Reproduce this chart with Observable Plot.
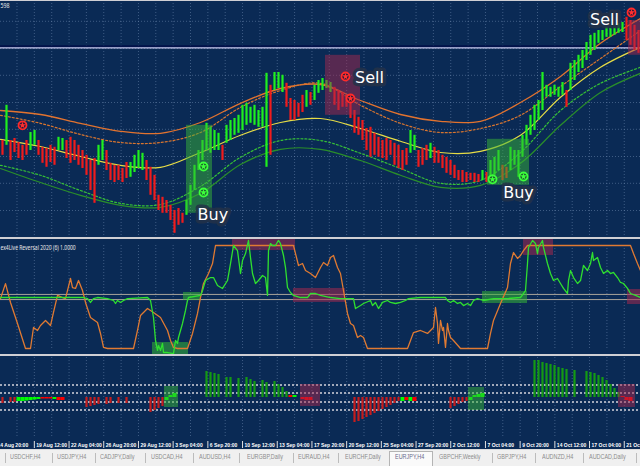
<!DOCTYPE html>
<html><head><meta charset="utf-8">
<script src="https://cdn.jsdelivr.net/npm/d3@7"></script>
<script src="https://cdn.jsdelivr.net/npm/@observablehq/plot@0.6"></script>
<style>
html,body{margin:0;padding:0;background:#0a2a55;}
#wrap{position:relative;width:640px;height:466px;overflow:hidden;background:#0a2a55;font-family:"Liberation Sans",Arial,sans-serif;}
.pane{position:absolute;left:0;}
.pane svg{display:block;}
.sep{position:absolute;left:0;width:640px;background:#cfcfd4;}
#tabs{position:absolute;left:0;top:449px;width:640px;height:17px;background:#f0f0f0;border-top:1px solid #dcdcdc;box-sizing:border-box;}
.tab{position:absolute;top:3px;font-size:7px;color:#8c8c8c;white-space:nowrap;transform:scaleX(0.78);transform-origin:left top;}
.tsep{position:absolute;top:3px;width:1px;height:10px;background:#bcbcbc;}
.selbox{position:absolute;top:1px;height:16px;background:#fafafa;border:1px solid #b4b4b4;border-bottom:none;box-sizing:border-box;}
</style></head>
<body>
<div id="wrap">
  <div id="p1" class="pane" style="top:0px"></div>
  <div id="p2" class="pane" style="top:239px"></div>
  <div id="p3" class="pane" style="top:357px"></div>
  <div id="p4" class="pane" style="top:437px"></div>
  <div class="sep" style="top:0px;height:1px"></div>
  <div class="sep" style="top:237px;height:2px"></div>
  <div class="sep" style="top:354px;height:2px"></div>
  <div id="tabs"></div>
</div>
<script>
// ---------------- DATA ----------------
// x unit = one sampled price bar (4 px); 160 sampled bars
const barHigh = [
118.15,119.03,118.15,118.20,118.10,118.03,118.15,118.35,118.40,118.15,
117.98,117.95,118.03,117.98,118.23,118.20,118.15,118.23,118.15,118.03,
117.90,117.78,117.65,117.70,118.03,118.15,117.90,117.58,117.53,117.53,
117.45,117.60,117.60,117.78,117.90,117.83,117.65,117.48,117.28,116.78,
116.73,116.65,116.53,116.40,116.45,116.33,116.65,117.03,117.53,117.90,
118.15,118.58,118.48,118.40,118.33,118.03,118.53,118.65,118.70,118.78,
119.03,119.08,118.98,119.03,118.90,118.98,119.83,119.53,119.85,119.85,
119.78,119.58,119.20,119.15,119.08,119.28,119.40,119.35,119.53,119.65,
119.70,119.65,119.60,119.48,119.40,119.35,119.28,119.15,118.90,118.73,
118.65,118.45,118.48,118.33,118.23,118.15,118.20,118.15,118.08,118.03,
117.90,117.95,118.40,118.28,117.90,117.95,118.03,118.08,117.98,117.90,
117.78,117.73,117.65,117.53,117.40,117.40,117.35,117.33,117.33,117.30,
117.40,117.35,117.65,117.73,117.90,117.53,117.48,117.98,117.90,117.90,
118.28,118.53,118.78,119.03,119.15,119.85,119.53,119.48,119.53,119.48,
119.60,119.40,120.08,120.15,120.28,120.40,120.60,120.78,120.83,120.90,
120.90,120.98,120.95,121.03,121.08,121.10,121.23,121.15,121.03,120.90];
const barLow = [
117.78,118.03,117.65,117.85,117.70,117.65,117.78,117.90,118.03,117.78,
117.58,117.48,117.60,117.53,117.90,117.90,117.70,117.58,117.65,117.53,
117.45,117.28,116.90,116.58,117.53,117.65,117.40,117.15,117.10,117.15,
117.10,117.20,117.23,117.35,117.45,117.40,117.15,116.78,116.65,116.40,
116.33,116.33,116.15,115.83,116.03,116.08,116.28,116.53,116.90,117.40,
117.65,117.90,117.83,117.90,117.90,117.65,118.08,118.15,118.28,118.33,
118.40,118.53,118.58,118.53,118.48,118.48,117.48,117.78,119.40,119.45,
119.35,118.98,118.65,118.65,118.73,118.85,118.98,119.03,119.15,119.33,
119.40,119.45,119.35,119.03,118.90,118.98,118.98,118.70,118.33,118.28,
118.15,117.90,117.73,117.78,117.73,117.70,117.65,117.78,117.53,117.45,
117.40,117.53,117.83,117.90,117.48,117.53,117.65,117.70,117.58,117.58,
117.45,117.33,117.28,117.20,117.15,117.10,117.10,117.15,117.10,117.10,
117.15,117.10,117.15,117.28,117.40,117.15,117.20,117.40,117.53,117.23,
117.73,118.03,118.28,118.40,118.65,118.90,119.23,119.23,119.28,119.23,
119.28,118.98,119.40,119.65,119.85,119.95,120.15,120.28,120.40,120.58,
120.65,120.73,120.73,120.78,120.83,120.85,120.65,120.53,120.40,120.33];
const barDir = ("rgrrrrrggr"+"rrrrggrrrr"+"rrrrggrrrr"+"rrggggrrrr"+"rrrrrrgggg"+"gggggrgggg"+"gggggggrgg"+"grrrrrgrgg"+
                "gggrrrrrrr"+"rrrrrrrrrr"+"rrggrrrgrr"+"rrrrrrrrrr"+"grgggrrggg"+"gggggggggg"+"grgggggggg"+"ggggggrrrr").split("");

// envelope bands, sampled every 10 units
const bandX      = [0,10,20,30,40,50,60,70,80,90,100,110,120,130,140,150,160];
const upperOuter = [118.90,118.80,118.58,118.38,118.33,118.60,119.08,119.45,119.55,119.15,118.80,118.63,118.63,119.10,119.75,120.58,121.20];
const upperInner = [118.78,118.58,118.30,118.10,118.10,118.35,118.98,119.40,119.58,119.03,118.58,118.35,118.45,118.78,119.50,120.20,120.90];
const middle     = [118.18,118.00,117.75,117.53,117.48,117.85,118.28,118.60,118.70,118.45,118.13,117.85,117.88,118.28,119.23,119.98,120.48];
const lowerInner = [117.53,117.28,116.90,116.58,116.55,117.00,117.73,118.15,118.15,117.83,117.45,117.08,117.15,117.85,118.90,119.58,119.98];
const lowerOuter = [117.45,117.10,116.78,116.53,116.48,116.83,117.55,117.93,117.93,117.65,117.28,116.98,117.03,117.58,118.53,119.35,119.83];
const levelPrice = 120.48;
const priceGrid = [121.13,120.45,119.78,119.10,118.43,117.75,117.08,116.40];

const sellX = [5.5, 86.25, 87.5, 157.75];
const sellY = [118.53, 119.75, 119.20, 121.35];
const buyX  = [50.75, 50.75, 123, 130.75];
const buyY  = [117.50, 116.85, 117.18, 117.25];
const signalText = ["Buy","Sell","Buy","Sell"];
const signalTextX = [53.1, 92.25, 129.5, 151];
const signalTextY = [116.30, 119.71, 116.83, 121.16];
const zoneX1 = [46.5, 81.25, 121.75, 157];
const zoneX2 = [53, 90, 132.25, 160];
const zoneTop = [118.53, 120.28, 118.18, 121.15];
const zoneBot = [116.33, 118.78, 117.03, 120.28];
const zoneKind = ["buy","sell","buy","sell"];

// oscillator pane (0..100)
const slowX = [0,1.25,2.5,4.25,6.25,7.5,8.25,9.25,10,11.25,12.5,13.25,14.25,15.5,16.25,17.5,18,18.75,19.5,20.5,21.25,22.5,24.25,25,25.75,26.75,33.25,34.25,35,36.75,38.25,40,41.75,42.5,43.25,44.25,46.75,48,49.25,50,50.75,52,53,53.75,73.25,73.75,74.5,75.5,76.25,77.5,78.75,80,80.75,81.75,82.5,83.25,84.25,85,85.75,86.75,87.5,88.25,89.25,90,90.75,91.75,101.75,103.25,105,106.75,107.5,108.25,108.75,109.25,109.5,110,110.5,110.75,111.25,111.75,112,112.5,113.25,115,121.75,122.5,123.25,125,126.75,127.5,128.25,129.25,130,130.75,131.75,157.5,158.25,159.25,160];
const slowV = [48.5,63,44.7,24.3,0,0,20.4,17.5,22.3,27.2,22.3,35,51.5,49.5,48.5,68,59.2,58.3,66,56.3,44.7,30.1,25.2,14.6,1,0,0,17.5,32,38.8,35,30.1,17.5,7.8,1,0,0,14.6,34,49.5,63.1,72.8,82.5,100,100,92.2,80.6,82.5,75.7,72.8,68.9,78.6,83.5,80.6,88.3,90.3,78.6,72.8,56.3,34,24.3,22.3,10.7,12.6,10.7,0,0,15.5,17.5,14.6,17.5,20.4,39.8,24.3,4.9,27.2,17.5,20.4,1,24.3,17.5,10.7,7.8,0,0,14.6,27.2,43.7,59.2,82.5,93.2,87.4,90.3,95.1,100,100,92.2,82.5,75.7];
const fastX = [0,20.75,21.75,22.5,23.25,24.25,26.75,28.25,28.75,29.25,30,30.75,31.75,36.75,37.5,38.25,38.75,39.25,39.5,40,40.5,40.75,41.75,43.25,43.75,44.25,44.5,45,45.5,46.25,46.75,47,50,50.5,51.25,52.5,53.25,54.25,55.5,56.75,57.5,58.25,59.25,60,60.5,61.25,62,62.5,63,63.75,64.5,65.5,66.25,66.75,67,67.5,68,68.75,69.5,70,70.75,71.25,71.75,72.5,73.25,75,76.75,77.5,78.75,80,82.5,85,88.25,88.75,90,90.75,92.5,93,93.75,94.5,95.5,96.75,97.5,98.75,100,101.25,102,105,111.25,111.75,112.5,113.25,114.25,115,115.75,116.75,117.5,118.25,119.25,120.75,123.25,126.75,130,131.25,131.75,132,133,133.75,134.25,134.5,135.5,135.75,136.75,137.5,138.25,139.25,140,140.75,141.75,142,142.5,143.25,144.25,145,145.75,146.75,147.5,148,148.25,149.25,150,150.75,151.75,152.5,153.25,154.25,155,155.75,156.75,157.5,158.75,160];
const fastV = [49.5,49.5,48.5,44.7,48.5,49.5,48.5,46.6,43.7,46.6,44.7,46.6,48.5,49.5,46.6,30.1,7.8,-1.9,2.9,-1.9,4.9,-3.9,-3.9,-4.9,7.8,4.9,10.7,17.5,24.3,36.9,46.6,49.5,51.5,56.3,66,68.9,68.9,61.2,58.3,66,82.5,100,95.1,72.8,85.4,92.2,104.9,88.3,72.8,63.1,66,70.9,68.9,51.5,95.1,101.9,100,100,104.9,101.9,90.3,78.6,59.2,54.4,51.5,49.5,49.5,53.4,53.4,51.5,49.5,48.5,48.5,38.8,41.7,43.7,46.6,41.7,44.7,38.8,44.7,46.6,44.7,43.7,44.7,46.6,48.5,49.5,49.5,46.6,44.7,46.6,43.7,44.7,41.7,43.7,41.7,46.6,48.5,46.6,48.5,48.5,49.5,56.3,82.5,98.1,104.9,101.9,92.2,98.1,104.9,98.1,82.5,72.8,66,68,63.1,58.3,53.4,66,75.7,68.9,63.1,66,80.6,75.7,82.5,93.2,85.4,88.3,78.6,72.8,75.7,72.8,73.8,68.9,64.1,63.1,58.3,53.4,51.5,49.5];
const oscLevels = [52.5, 47.5];
const oscZoneX1 = [38, 45.75, 58, 73.25, 120.5, 130.75, 156.75];
const oscZoneX2 = [47, 50, 73.75, 86.25, 131.75, 138.25, 160];
const oscZoneTop = [5.8, 54.4, 106.8, 58.3, 55.3, 105.8, 57.3];
const oscZoneBot = [-8.7, 46.6, 95.1, 44.7, 43.7, 90.3, 42.7];
const oscZoneKind = ["buy","buy","sell","sell","buy","sell","sell"];
const oscTitle = "ex4Live Reversal 2020 (6) 1.0000";

// histogram pane
const histValue = [
-6,0,-5,-5,0,0,0,0,0,0,
0,0,0,0,0,0,0,0,0,0,
0,-10,-9,-8,-7,0,-7,-6,0,-6,
0,-6,0,0,0,0,0,-15,-13,-11,
-9,0,0,0,0,0,0,0,0,0,
0,26,25,24,23,0,20,20,0,19,
0,20,18,16,0,17,15,0,16,13,
10,6,0,0,0,0,0,0,0,0,
0,0,0,0,0,0,0,0,-25,-24,
-22,-20,-18,-16,-14,-12,-10,-8,-6,-4,
0,0,0,0,0,0,0,0,0,0,
0,0,-11,-9,-7,-5,-4,0,0,0,
0,0,0,0,0,0,0,0,0,0,
0,0,0,37,37,35,34,33,32,30,
29,28,0,27,0,0,26,25,24,22,
20,17,13,9,5,0,0,0,0,0];
const sigIndex = [4,5,6,7,8,9,10,11,12,13,14,15,41,42,43,72,73,75,76,77,100,101,102,103,117,118,119,120,155,156,157];
const sigValue = [-4,-4,-3.5,-3,-2.5,-2,-1.5,-1.5,-1.5,-2,-3,-3,-3,2,4,2,2,-2,-3,-3,-4,-3,-4,-4,-3,2,3,4,1,-3,-4];
const sigDir   = ["g","g","g","g","g","g","r","r","r","g","r","r","g","g","g","r","g","r","r","r","g","r","g","r","g","g","g","g","r","r","r"];
const histLevels = [12.5, 4.5, -4.5, -12.5];
const histZoneX1 = [41, 75, 117, 154.5];
const histZoneX2 = [44.5, 80, 121, 158.75];
const histZoneTop = [11, 13, 10, 13];
const histZoneBot = [-10, -9, -13, -10];
const histZoneKind = ["buy","sell","buy","sell"];

// time axis
const timeTicks = [-1.25,8.46,17.14,25.81,34.49,43.16,51.84,60.51,69.19,77.86,86.54,95.21,103.89,112.56,121.24,129.91,138.59,147.26,155.94];
const timeLabels = ["14 Aug 20:00","19 Aug 12:00","22 Aug 04:00","26 Aug 20:00","29 Aug 12:00","3 Sep 04:00","6 Sep 20:00","10 Sep 12:00","13 Sep 04:00","17 Sep 20:00","20 Sep 12:00","25 Sep 04:00","27 Sep 20:00","2 Oct 12:00","7 Oct 04:00","9 Oct 20:00","14 Oct 12:00","17 Oct 04:00","21 Oct 20:00"];
const topPriceLabel = "598";

// tabs
const tabNames = ["USDCHF,H4","USDJPY,H4","CADJPY,Daily","USDCAD,H4","AUDUSD,H4","EURGBP,Daily","EURAUD,H4","EURCHF,Daily","EURJPY,H4","GBPCHF,Weekly","GBPJPY,H4","AUDNZD,H4","AUDCAD,Daily"];
const activeTab = "EURJPY,H4";

// ---------------- STYLE ----------------
const C = {
  grid: "#7f98bf", up: "#1ff01f", down: "#f01c1c",
  orange: "#e2732f", orange2: "#d8752f", yellow: "#e6dc46", green1: "#36c236", green2: "#2a8f2a",
  buyZone: "#37b437", sellZone: "#a3284e", oscGreen: "#2fe02f", oscOrange: "#e07a32",
  histUp: "#149a14", histDown: "#c51d1d", sigUp: "#00ff00", sigDown: "#ff0000"
};
const gridX = [];
for (let i = 1; i < timeTicks.length; i++) gridX.push(timeTicks[i] - 4.3375, timeTicks[i]);
const idx = barHigh.map((d, i) => i);
const xOpt = {domain: [0, 160], axis: null};
const style = {background: "transparent", overflow: "hidden"};
const gridMarks = [Plot.ruleX(gridX, {stroke: C.grid, strokeOpacity: 0.45, strokeDasharray: "1,2"})];

function squeeze(svg, match, perChar) {
  svg.querySelectorAll("text").forEach(t => {
    if (t.textContent && match(t.textContent)) {
      t.setAttribute("textLength", (t.textContent.length * perChar).toFixed(1));
      t.setAttribute("lengthAdjust", "spacingAndGlyphs");
    }
  });
}

// ---- pane 1 : price ----
const bandLine = (arr, stroke, dash, w) => Plot.line(bandX, {x: d => d, y: (d, i) => arr[i], stroke, strokeWidth: w || 1.2, strokeDasharray: dash, curve: "catmull-rom"});
const p1 = Plot.plot({
  width: 640, height: 237, margin: 0, style,
  x: xOpt, y: {domain: [115.725, 121.65], axis: null},
  marks: [
    ...gridMarks,
    Plot.ruleY(priceGrid, {stroke: C.grid, strokeOpacity: 0.45, strokeDasharray: "1,2"}),
    Plot.ruleY([levelPrice], {stroke: "#02124a", strokeWidth: 2, dy: -1}),
    Plot.ruleY([levelPrice], {stroke: "#c9c9ee", strokeWidth: 1.2, dy: 0.5}),
    bandLine(upperOuter, C.orange, null, 1.3),
    bandLine(upperInner, C.orange2, "2,2", 1.2),
    bandLine(middle, C.yellow, null, 1.2),
    bandLine(lowerInner, C.green1, "2,2", 1.2),
    bandLine(lowerOuter, C.green2, null, 1.2),
    Plot.ruleX(idx, {x: i => i + 0.5, y1: i => barLow[i], y2: i => barHigh[i], stroke: i => barDir[i] === "g" ? C.up : C.down, strokeWidth: 2.2}),
    Plot.rect(zoneKind, {x1: (d, i) => zoneX1[i], x2: (d, i) => zoneX2[i], y1: (d, i) => zoneBot[i], y2: (d, i) => zoneTop[i], fill: d => d === "buy" ? C.buyZone : C.sellZone, fillOpacity: 0.5}),
    Plot.dot(sellX, {x: d => d, y: (d, i) => sellY[i], r: 4, stroke: "#ff2a2a", strokeWidth: 1.8, fill: "#2a1a3a"}),
    Plot.dot(sellX, {x: d => d, y: (d, i) => sellY[i], r: 2.2, symbol: "star", fill: "#ff3030"}),
    Plot.dot(buyX, {x: d => d, y: (d, i) => buyY[i], r: 4, stroke: "#3cff3c", strokeWidth: 1.8, fill: "#1e5a2e"}),
    Plot.dot(buyX, {x: d => d, y: (d, i) => buyY[i], r: 2.2, symbol: "star", fill: "#3cff3c"}),
    Plot.text(signalText, {x: (d, i) => signalTextX[i], y: (d, i) => signalTextY[i], text: d => d, fill: "white", stroke: "#243248", strokeOpacity: 0.85, strokeWidth: 7, strokeLinejoin: "round", paintOrder: "stroke", fontSize: 16, fontFamily: "DejaVu Sans"}),
    Plot.text([topPriceLabel], {frameAnchor: "top-left", text: d => d, fill: "#e8e8e8", fontSize: 6.5, dy: 3, dx: 0})
  ]
});
squeeze(p1, s => s === topPriceLabel, 3);
document.getElementById("p1").append(p1);

// ---- pane 2 : oscillator ----
const p2 = Plot.plot({
  width: 640, height: 115, margin: 0, marginTop: 6, marginBottom: 6, style,
  x: xOpt, y: {domain: [0, 100], axis: null},
  marks: [
    ...gridMarks,
    Plot.ruleY(oscLevels, {stroke: "#a8a49a", strokeWidth: 1}),
    Plot.rect(oscZoneKind, {x1: (d, i) => oscZoneX1[i], x2: (d, i) => oscZoneX2[i], y1: (d, i) => oscZoneBot[i], y2: (d, i) => oscZoneTop[i], fill: d => d === "buy" ? C.buyZone : C.sellZone, fillOpacity: 0.55}),
    Plot.line(slowX, {x: d => d, y: (d, i) => slowV[i], stroke: C.oscOrange, strokeWidth: 1.3}),
    Plot.line(fastX, {x: d => d, y: (d, i) => fastV[i], stroke: C.oscGreen, strokeWidth: 1.3}),
    Plot.text([oscTitle], {frameAnchor: "top-left", text: d => d, fill: "#e8e8e8", fontSize: 6.5, dy: 0})
  ]
});
squeeze(p2, s => s === oscTitle, 2.35);
document.getElementById("p2").append(p2);

// ---- pane 3 : histogram ----
const p3 = Plot.plot({
  width: 640, height: 80, margin: 0, style,
  x: xOpt, y: {domain: [-40, 40], axis: null},
  marks: [
    ...gridMarks,
    Plot.ruleY(histLevels, {stroke: "#d4d4dc", strokeWidth: 1.3, strokeDasharray: "2,2"}),
    Plot.ruleX(idx.filter(i => histValue[i] !== 0), {x: i => i + 0.5, y1: 0, y2: i => histValue[i], stroke: i => histValue[i] > 0 ? C.histUp : C.histDown, strokeWidth: 2.2}),
    Plot.ruleX(sigIndex, {x: i => i + 0.5, y1: 0, y2: (d, k) => sigValue[k], stroke: (d, k) => sigDir[k] === "g" ? C.sigUp : C.sigDown, strokeWidth: 4}),
    Plot.rect(histZoneKind, {x1: (d, i) => histZoneX1[i], x2: (d, i) => histZoneX2[i], y1: (d, i) => histZoneBot[i], y2: (d, i) => histZoneTop[i], fill: d => d === "buy" ? C.buyZone : C.sellZone, fillOpacity: 0.5})
  ]
});
document.getElementById("p3").append(p3);

// ---- time axis ----
const p4 = Plot.plot({
  width: 640, height: 12, margin: 0, style,
  x: xOpt,
  marks: [
    Plot.tickX(timeTicks, {x: d => d, stroke: "#e0e0e0", strokeWidth: 1, insetTop: 4, insetBottom: 1}),
    Plot.text(timeTicks, {x: d => d, text: (d, i) => timeLabels[i], frameAnchor: "middle", textAnchor: "start", dx: 2, dy: 1.5, fill: "white", fontSize: 5, fontWeight: "bold", fontFamily: "Liberation Sans"})
  ]
});
document.getElementById("p4").append(p4);

// ---- tab bar ----
const tabLeft = [10,57,100,151,199,247,298,345,395,439,497,542,589];
const sepLeft = [5,52,95,145,193,239,293,338,492,535,583,636];
const tabs = document.getElementById("tabs");
const sel = document.createElement("div");
sel.className = "selbox"; sel.style.left = "389px"; sel.style.width = "44px";
tabs.append(sel);
sepLeft.forEach(x => { const s = document.createElement("div"); s.className = "tsep"; s.style.left = x + "px"; tabs.append(s); });
tabNames.forEach((n, i) => {
  const t = document.createElement("div"); t.className = "tab"; t.textContent = n; t.style.left = tabLeft[i] + "px";
  if (n === activeTab) t.style.color = "#6a6a8a";
  tabs.append(t);
});
</script>
</body></html>
